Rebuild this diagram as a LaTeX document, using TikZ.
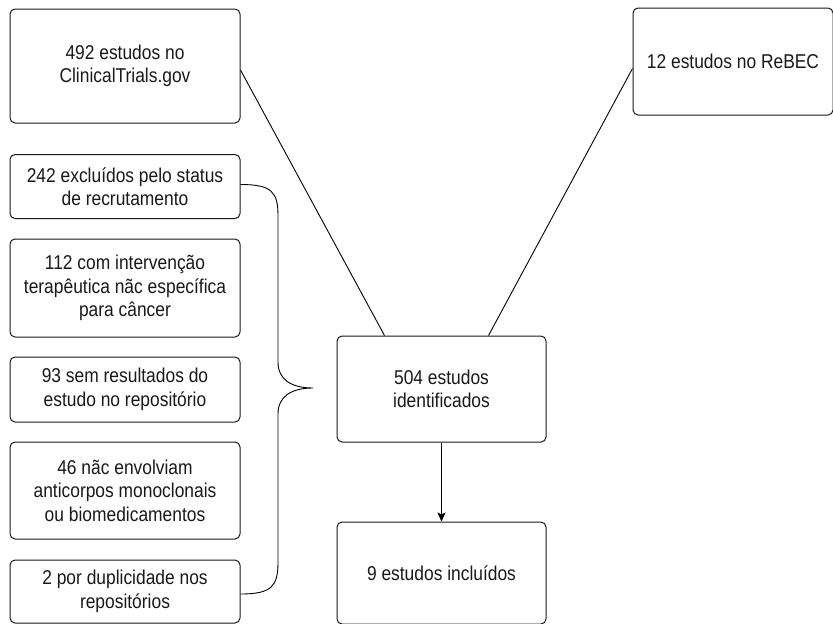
\documentclass[tikz,border=0pt]{standalone}
\usepackage{fontspec}
\setmainfont[FakeStretch=0.87]{Liberation Sans}
\usetikzlibrary{arrows.meta,calc}
\begin{document}
\begin{tikzpicture}[x=1pt,y=-1pt,
  box/.style={draw=black!90,line width=1pt,rounded corners=5pt,align=center,
    inner sep=0pt,font=\fontsize{20}{23.5}\selectfont,text=black!90},
  conn/.style={draw=black,line width=0.9pt}]
\useasboundingbox (0,0) rectangle (833,624);
\node[box,minimum width=230pt,minimum height=114pt] (A) at (125,66) {492 estudos no\\ClinicalTrials.gov};
\node[box,minimum width=200pt,minimum height=107pt] (B) at (733,61.5) {12 estudos no ReBEC};
\node[box,minimum width=209pt,minimum height=106pt] (C) at (441.5,389) {504 estudos\\identificados};
\node[box,minimum width=209pt,minimum height=102pt] (D) at (441.5,573) {9 estudos incluídos};
\node[box,minimum width=230pt,minimum height=64pt] (E1) at (125,186.5) {242 excluídos pelo status\\de recrutamento};
\node[box,minimum width=230pt,minimum height=98pt] (E2) at (125,288) {112 com intervenção\\terapêutica nãc específica\\para câncer};
\node[box,minimum width=230pt,minimum height=65pt] (E3) at (125,389.5) {93 sem resultados do\\estudo no repositório};
\node[box,minimum width=230pt,minimum height=97pt] (E4) at (125,490.5) {46 nãc envolviam\\anticorpos monoclonais\\ou biomedicamentos};
\node[box,minimum width=230pt,minimum height=63pt] (E5) at (125,591.5) {2 por duplicidade nos\\repositórios};
\coordinate (tip) at (313,388);
\draw[conn] ($(A.east)+(0,4)$) -- ($(C.north west)+(48,0)$);
\draw[conn] ($(B.west)+(0,7)$) -- ($(C.north east)+(-58,0)$);
\draw[conn,-{Stealth[length=9pt,width=8pt,inset=2pt]}] (C.south) -- (D.north);
\draw[conn] ($(E1.east)+(0,-2)$) .. controls (272,184.5) and (278,192) .. (278,216)
  -- (278,362) .. controls (278,380) and (292,388) .. (tip)
  .. controls (292,388) and (278,396) .. (278,414)
  -- (278,562) .. controls (278,586) and (272,594) .. ($(E5.east)+(0,2.5)$);
\end{tikzpicture}
\end{document}
